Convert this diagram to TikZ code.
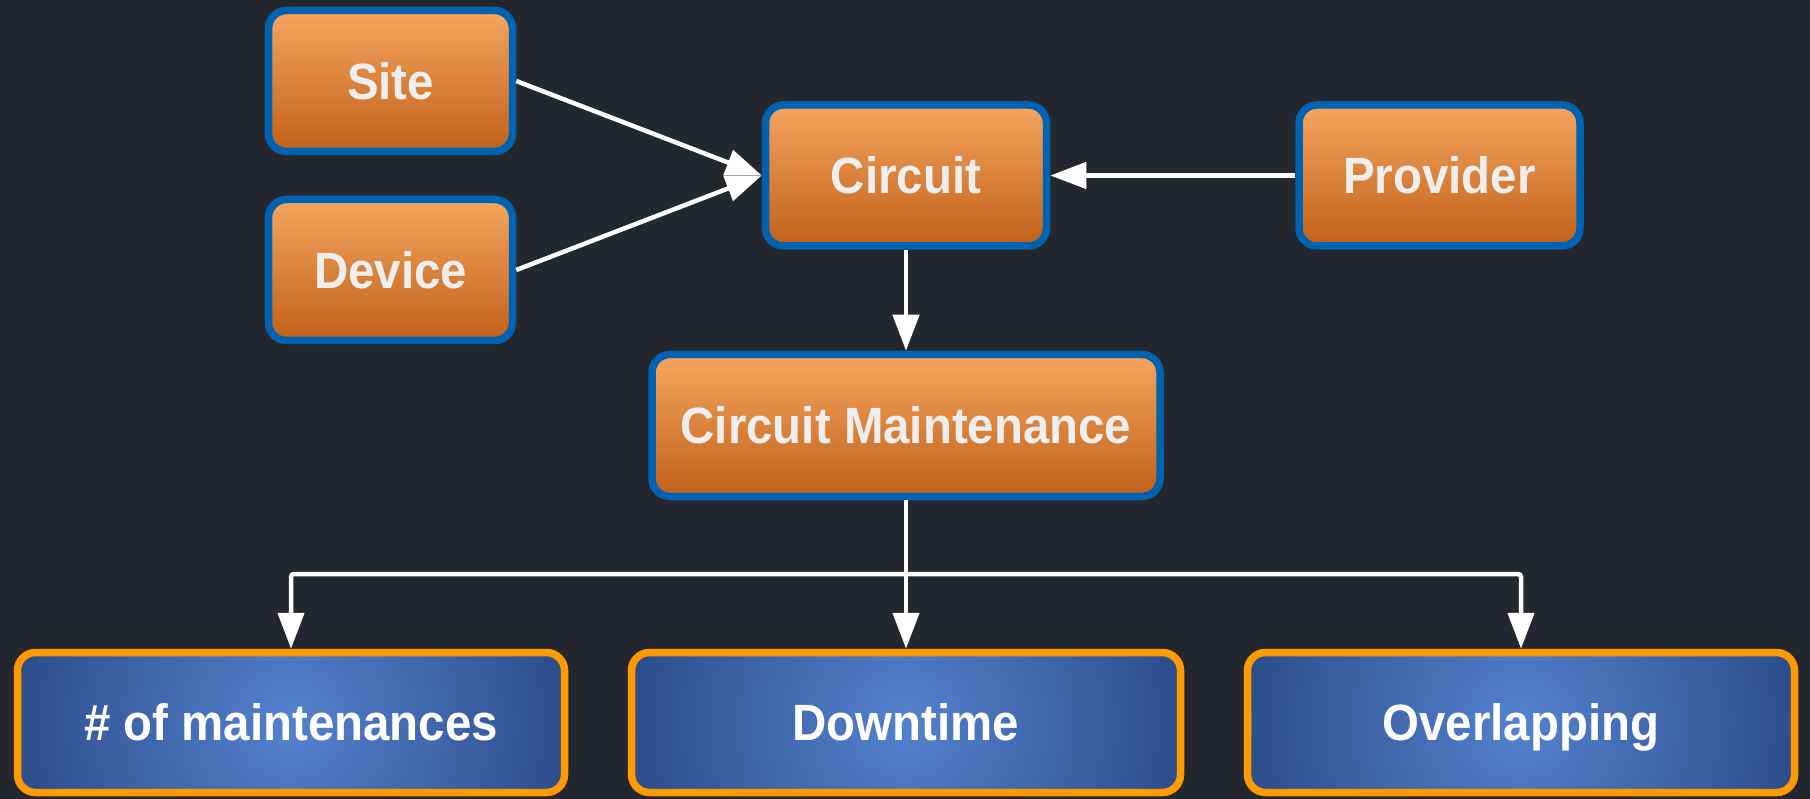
\documentclass[tikz,border=0pt]{standalone}
\usepackage{fontspec}
\setmainfont{Liberation Sans}[FakeStretch=0.93]
\usetikzlibrary{arrows.meta}

\definecolor{bg}{HTML}{25272F}
\definecolor{entborder}{HTML}{0063B1}
\definecolor{enttop}{HTML}{F4A55F}
\definecolor{entbot}{HTML}{C0611A}
\definecolor{enttext}{HTML}{EEEEEE}
\definecolor{metborder}{HTML}{FF9A00}
\definecolor{metinner}{HTML}{5481CE}
\definecolor{metouter}{HTML}{2C4C8A}

\begin{document}
\begin{tikzpicture}[x=1pt,y=-1pt,
  label text/.style={font=\fontsize{51}{60}\selectfont\bfseries,
    inner sep=0pt, text height=36.5pt, text depth=0pt},
  entity/.style={label text, draw=entborder, line width=7.5pt, rounded corners=18pt,
    top color=enttop, bottom color=entbot, text=enttext,
    minimum height=141pt},
  metric/.style={label text, draw=metborder, line width=7.5pt, rounded corners=18pt,
    fill=metouter, text=white,
    path picture={\shade[inner color=metinner, outer color=metouter]
      (path picture bounding box.center) circle (285pt);},
    minimum height=140pt, minimum width=547pt},
  link/.style={draw=white, line width=4.5pt,
    -{Triangle[length=36pt,width=26pt]}}]

  % canvas
  \fill[bg] (0,0) rectangle (1810,799);
  \useasboundingbox (0,0) rectangle (1810,799);

  % source entities
  \node[entity, minimum width=244pt] (site)     at (390.5,81)  {Site};
  \node[entity, minimum width=244pt] (device)   at (390.5,270) {Device};
  \node[entity, minimum width=281pt] (circuit)  at (906,175.5) {Circuit};
  \node[entity, minimum width=281pt] (provider) at (1439.5,175.5) {Provider};
  \node[entity, minimum width=508pt, minimum height=142pt] (cm) at (906,425.5) {Circuit Maintenance};

  % derived metrics
  \node[metric] (count)   at (291,722.5)  {\# of maintenances};
  \node[metric, minimum width=549pt] (down) at (906,722.5) {Downtime};
  \node[metric] (overlap) at (1521,722.5) {Overlapping};

  % relations
  \draw[link] (site.east) -- (circuit.west);
  \draw[link] (device.east) -- (circuit.west);
  \draw[link] (provider.west) -- (circuit.east);
  \draw[link] (circuit.south) -- (cm.north);

  \coordinate (split) at (906,574);
  \draw[link] (cm.south) -- (down.north);
  \draw[link, rounded corners=3pt] (split) -| (count.north);
  \draw[link, rounded corners=3pt] (split) -| (overlap.north);
\end{tikzpicture}
\end{document}
